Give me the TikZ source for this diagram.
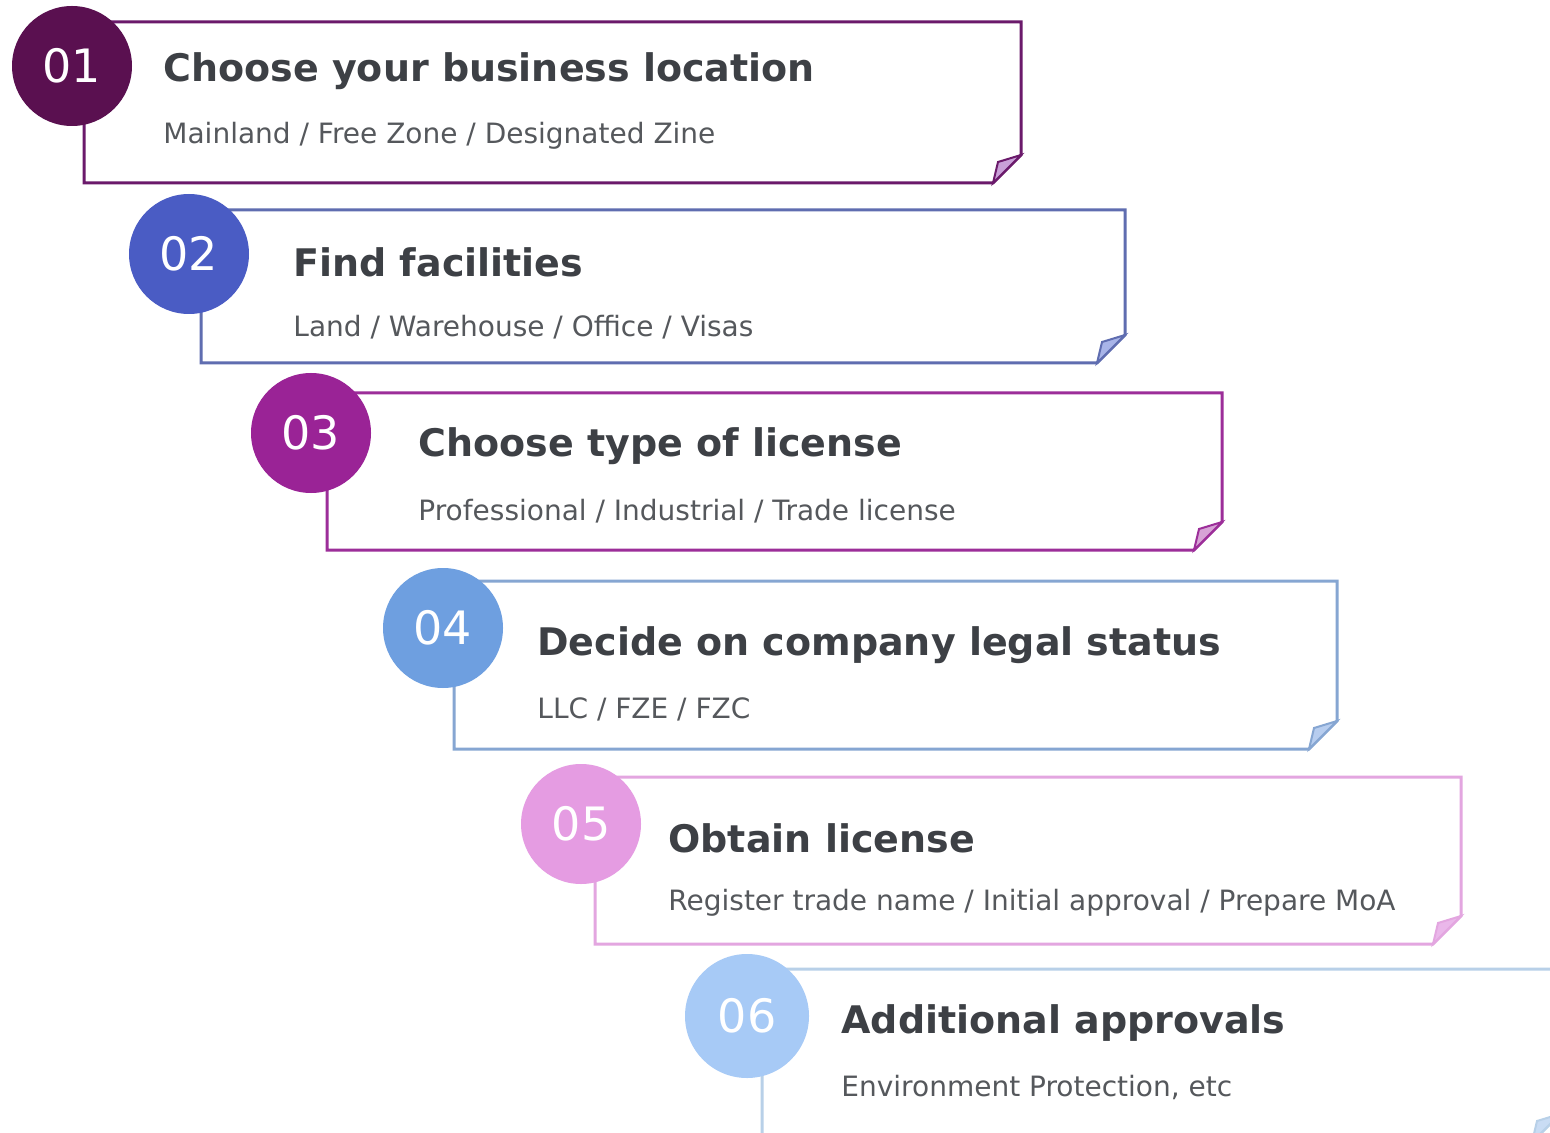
\documentclass[tikz,border=0pt]{standalone}
\usepackage{fontspec}
\setmainfont{DejaVu Sans}
\usetikzlibrary{positioning}

\definecolor{txtdark}{HTML}{3D4045}
\definecolor{txtsub}{HTML}{55585C}
% step colours: circle, outline, fold
\definecolor{circA}{HTML}{5A1050}\definecolor{lineA}{HTML}{6B1A6B}\definecolor{foldA}{HTML}{C9A0D8}
\definecolor{circB}{HTML}{4A5CC4}\definecolor{lineB}{HTML}{5F6DB0}\definecolor{foldB}{HTML}{A8B4E8}
\definecolor{circC}{HTML}{9A2396}\definecolor{lineC}{HTML}{9C2E99}\definecolor{foldC}{HTML}{D7A3D6}
\definecolor{circD}{HTML}{6E9FE0}\definecolor{lineD}{HTML}{86A6D2}\definecolor{foldD}{HTML}{B7CDEF}
\definecolor{circE}{HTML}{E59CE2}\definecolor{lineE}{HTML}{E3A6E0}\definecolor{foldE}{HTML}{EAB7EA}
\definecolor{circF}{HTML}{A7CAF6}\definecolor{lineF}{HTML}{B8D0E8}\definecolor{foldF}{HTML}{C9DCF4}

\tikzset{
    stepnum/.style={circle, minimum size=60pt, inner sep=0pt, text=white,
        font=\fontsize{23}{27}\selectfont},
    steptitle/.style={anchor=west, inner sep=0pt, text=txtdark,
        font=\fontsize{19}{23}\selectfont\bfseries},
    stepsub/.style={anchor=west, inner sep=0pt, text=txtsub,
        font=\fontsize{14}{17}\selectfont},
    stepframe/.style={line width=1.5pt, line join=miter}
}

\begin{document}
\begin{tikzpicture}[x=0.5pt, y=-0.5pt]
\useasboundingbox (0,0) rectangle (1550,1133);
\fill[white] (0,0) rectangle (1550,1133);

% Step 01
\draw [stepframe, draw=lineA] (84,22) -- (1021,22) -- (1021,155) -- (993,183) -- (84,183) -- cycle;
\filldraw [line width=1pt, draw=lineA, fill=foldA] (1021,155) -- (998,162) -- (993,183) -- cycle;
\node (num1) [stepnum,
    fill=circA
] at (72,66) {01};
\node (title1) [steptitle] at (163,71) {Choose your business location};
\node (sub1) [stepsub] at (163,136) {Mainland / Free Zone / Designated Zine};

% Step 02
\draw [stepframe, draw=lineB] (201,210) -- (1125,210) -- (1125,335) -- (1097,363) -- (201,363) -- cycle;
\filldraw [line width=1pt, draw=lineB, fill=foldB] (1125,335) -- (1102,342) -- (1097,363) -- cycle;
\node (num2) [stepnum,
    fill=circB
] at (189,254) {02};
\node (title2) [steptitle] at (293,262) {Find facilities};
\node (sub2) [stepsub] at (293,327) {Land / Warehouse / Office / Visas};

% Step 03
\draw [stepframe, draw=lineC] (327,393) -- (1222,393) -- (1222,522) -- (1194,550) -- (327,550) -- cycle;
\filldraw [line width=1pt, draw=lineC, fill=foldC] (1222,522) -- (1199,529) -- (1194,550) -- cycle;
\node (num3) [stepnum,
    fill=circC
] at (311,433) {03};
\node (title3) [steptitle] at (418,446) {Choose type of license};
\node (sub3) [stepsub] at (418,511) {Professional / Industrial / Trade license};

% Step 04
\draw [stepframe, draw=lineD] (454,581) -- (1337,581) -- (1337,721) -- (1309,749) -- (454,749) -- cycle;
\filldraw [line width=1pt, draw=lineD, fill=foldD] (1337,721) -- (1314,728) -- (1309,749) -- cycle;
\node (num4) [stepnum,
    fill=circD
] at (443,628) {04};
\node (title4) [steptitle] at (537,645) {Decide on company legal status};
\node (sub4) [stepsub] at (537,709) {LLC / FZE / FZC};

% Step 05
\draw [stepframe, draw=lineE] (595,777) -- (1461,777) -- (1461,916) -- (1433,944) -- (595,944) -- cycle;
\filldraw [line width=1pt, draw=lineE, fill=foldE] (1461,916) -- (1438,923) -- (1433,944) -- cycle;
\node (num5) [stepnum,
    fill=circE
] at (581,824) {05};
\node (title5) [steptitle] at (668,838) {Obtain license};
\node (sub5) [stepsub] at (668,903) {Register trade name / Initial approval / Prepare MoA};

% Step 06
\draw [stepframe, draw=lineF] (762,969) -- (1560,969) -- (1560,1114) -- (1532,1142) -- (762,1142) -- cycle;
\filldraw [line width=1pt, draw=lineF, fill=foldF] (1560,1114) -- (1537,1121) -- (1532,1142) -- cycle;
\node (num6) [stepnum,
    minimum size=62pt,
    fill=circF
] at (747,1016) {06};
\node (title6) [steptitle] at (841,1023) {Additional approvals};
\node (sub6) [stepsub] at (841,1087) {Environment Protection, etc};

\end{tikzpicture}
\end{document}
